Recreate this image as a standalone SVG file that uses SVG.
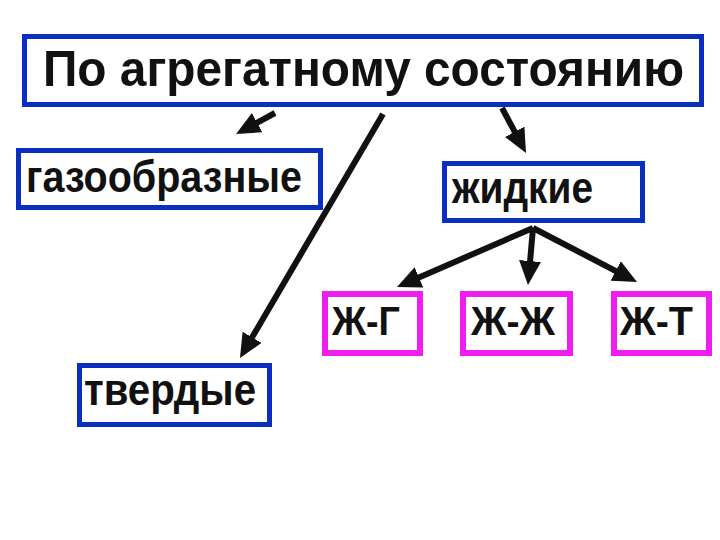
<svg xmlns="http://www.w3.org/2000/svg" width="720" height="540" viewBox="0 0 720 540">
<defs>
<style>
.blue{fill:#fff;stroke:#0a2fc0;stroke-width:5}
.mag{fill:#fff;stroke:#f01cf0;stroke-width:6}
.t{font-family:"Liberation Sans",Arial,sans-serif;font-weight:bold;fill:#111}
.c{stroke:#111;stroke-width:6;fill:none;marker-end:url(#ah)}
</style>
<marker id="ah" markerUnits="userSpaceOnUse" markerWidth="24" markerHeight="22" refX="17" refY="11" orient="auto">
<path d="M0,0 L24,11 L0,22 z" fill="#111"/>
</marker>
</defs>
<rect width="720" height="540" fill="#fff"/>
<g id="connectors">
<line class="c" x1="275" y1="113" x2="242.2" y2="130.7"/>
<line class="c" x1="383" y1="114" x2="243.5" y2="352"/>
<line class="c" x1="502" y1="108" x2="522.7" y2="146.8"/>
<line class="c" x1="533" y1="228" x2="403.4" y2="284.2"/>
<line class="c" x1="533" y1="228" x2="528.6" y2="278"/>
<line class="c" x1="533" y1="228" x2="630.8" y2="278.8"/>
</g>
<g id="root">
<rect class="blue" x="24.5" y="36.5" width="677" height="68"/>
<text class="t" x="43" y="86" font-size="50" textLength="641" lengthAdjust="spacingAndGlyphs">По агрегатному состоянию</text>
</g>
<g id="gas">
<rect class="blue" x="18.5" y="150.5" width="302" height="57"/>
<text class="t" x="26" y="192" font-size="44" textLength="276" lengthAdjust="spacingAndGlyphs">газообразные</text>
</g>
<g id="liquid">
<rect class="blue" x="444.5" y="163.5" width="198" height="57"/>
<text class="t" x="452" y="203" font-size="44" textLength="141" lengthAdjust="spacingAndGlyphs">жидкие</text>
</g>
<g id="solid">
<rect class="blue" x="79.5" y="365.5" width="190" height="59"/>
<text class="t" x="84" y="405" font-size="44" textLength="172" lengthAdjust="spacingAndGlyphs">твердые</text>
</g>
<g id="lg">
<rect class="mag" x="325" y="294" width="95" height="59"/>
<text class="t" x="332" y="335" font-size="40" textLength="68" lengthAdjust="spacingAndGlyphs">Ж-Г</text>
</g>
<g id="ll">
<rect class="mag" x="463" y="294" width="107" height="59"/>
<text class="t" x="471" y="335" font-size="40" textLength="84" lengthAdjust="spacingAndGlyphs">Ж-Ж</text>
</g>
<g id="ls">
<rect class="mag" x="614" y="294" width="95" height="59"/>
<text class="t" x="620" y="335" font-size="40" textLength="73" lengthAdjust="spacingAndGlyphs">Ж-Т</text>
</g>
</svg>
